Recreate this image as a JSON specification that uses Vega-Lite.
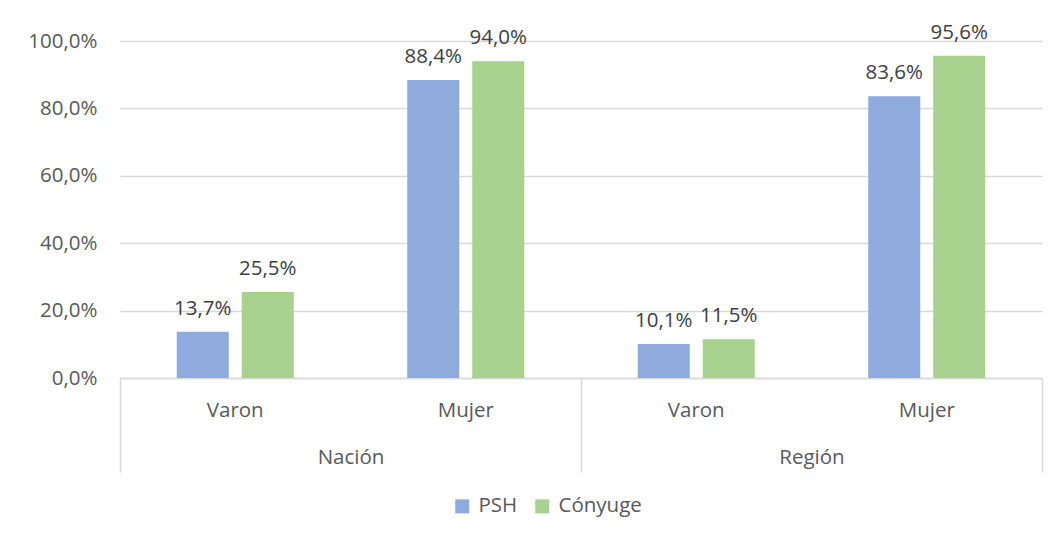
{
  "$schema": "https://vega.github.io/schema/vega-lite/v6.json",
  "autosize": {"type": "none"},
  "width": 922,
  "height": 337,
  "padding": {"left": 120, "top": 41, "right": 13, "bottom": 160},
  "background": "white",
  "config": {
    "font": "Open Sans",
    "view": {"stroke": null},
    "locale": {"number": {"decimal": ",", "thousands": ".", "grouping": [3], "currency": ["", " €"]}}
  },
  "data": {
    "values": [
      {"region": "Nación", "sexo": "Varon", "cat": "Nación Varon", "serie": "PSH", "valor": 0.137},
      {"region": "Nación", "sexo": "Varon", "cat": "Nación Varon", "serie": "Cónyuge", "valor": 0.255},
      {"region": "Nación", "sexo": "Mujer", "cat": "Nación Mujer", "serie": "PSH", "valor": 0.884},
      {"region": "Nación", "sexo": "Mujer", "cat": "Nación Mujer", "serie": "Cónyuge", "valor": 0.940},
      {"region": "Región", "sexo": "Varon", "cat": "Región Varon", "serie": "PSH", "valor": 0.101},
      {"region": "Región", "sexo": "Varon", "cat": "Región Varon", "serie": "Cónyuge", "valor": 0.115},
      {"region": "Región", "sexo": "Mujer", "cat": "Región Mujer", "serie": "PSH", "valor": 0.836},
      {"region": "Región", "sexo": "Mujer", "cat": "Región Mujer", "serie": "Cónyuge", "valor": 0.956}
    ]
  },
  "layer": [
    {
      "layer": [
        {
          "mark": {"type": "bar"},
          "encoding": {
            "x": {
              "field": "cat", "type": "nominal",
              "sort": ["Nación Varon", "Nación Mujer", "Región Varon", "Región Mujer"],
              "scale": {"paddingInner": 0, "paddingOuter": 0},
              "axis": {
                "orient": "bottom",
                "title": null, "labelAngle": 0, "ticks": false, "grid": false,
                "domain": true, "domainColor": "#d9d9d9", "domainWidth": 1.5,
                "labelExpr": "split(datum.label, ' ')[1]",
                "labelFontSize": 20.5, "labelColor": "#595959", "labelPadding": 22
              }
            },
            "xOffset": {
              "field": "serie", "type": "nominal",
              "sort": ["PSH", "Cónyuge"],
              "scale": {"paddingInner": 0.2, "paddingOuter": 0.873}
            },
            "y": {
              "field": "valor", "type": "quantitative",
              "scale": {"domain": [0, 1], "nice": false},
              "axis": {
                "title": null, "values": [0, 0.2, 0.4, 0.6, 0.8, 1], "format": ".1%",
                "grid": true, "gridColor": "#d9d9d9", "gridWidth": 1.5,
                "domain": false, "ticks": false,
                "labelFontSize": 20.5, "labelColor": "#595959", "labelPadding": 23
              }
            },
            "color": {
              "field": "serie", "type": "nominal",
              "scale": {"domain": ["PSH", "Cónyuge"], "range": ["#8faadc", "#a9d18e"]},
              "legend": {
                "orient": "none", "direction": "horizontal", "legendX": 332, "legendY": 455,
                "title": null, "symbolType": "square", "symbolSize": 196, "symbolStrokeWidth": 0,
                "labelFontSize": 20.5, "labelColor": "#595959", "columnPadding": 14, "labelOffset": 6
              }
            }
          }
        },
        {
          "mark": {"type": "text", "baseline": "alphabetic", "dy": -17, "fontSize": 20.5, "color": "#404040"},
          "encoding": {
            "x": {"field": "cat", "type": "nominal", "sort": ["Nación Varon", "Nación Mujer", "Región Varon", "Región Mujer"]},
            "xOffset": {"field": "serie", "type": "nominal", "sort": ["PSH", "Cónyuge"]},
            "y": {"field": "valor", "type": "quantitative"},
            "text": {"field": "valor", "type": "quantitative", "format": ".1%"}
          }
        }
      ]
    },
    {
      "mark": {"type": "point", "opacity": 0},
      "encoding": {
        "x": {
          "field": "region", "type": "nominal",
          "sort": ["Nación", "Región"],
          "scale": {"paddingInner": 0, "paddingOuter": 0},
          "axis": {
            "orient": "bottom",
            "title": null, "labelAngle": 0, "domain": false, "grid": false,
            "ticks": true, "tickBand": "extent", "tickSize": 94, "tickColor": "#d9d9d9", "tickWidth": 1.5,
            "labelFontSize": 20.5, "labelColor": "#595959", "labelPadding": -25
          }
        }
      }
    }
  ],
  "resolve": {"scale": {"x": "independent"}, "axis": {"x": "independent"}}
}
